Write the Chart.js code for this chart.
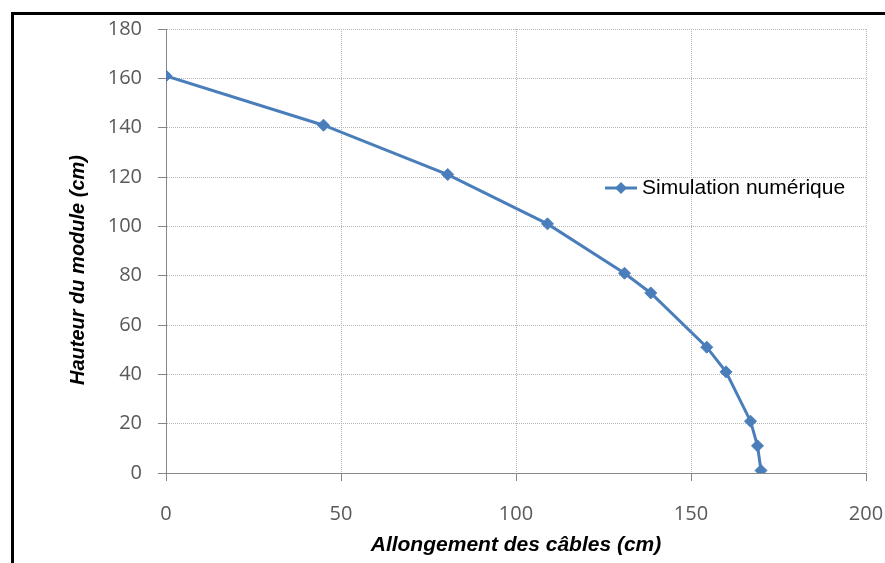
<!DOCTYPE html>
<html>
<head>
<meta charset="utf-8">
<title>Hauteur du module vs allongement des câbles</title>
<script src="https://cdn.jsdelivr.net/npm/chart.js@4/dist/chart.umd.min.js"></script>
<style>
  html, body { margin: 0; padding: 0; background: #fff; overflow: hidden; }
  #wrap { position: relative; width: 885px; height: 563px; }
  #frame {
    position: absolute; left: 11px; top: 12px; width: 1000px; height: 1000px;
    border-top: 3px solid #000; border-left: 3px solid #000; pointer-events: none;
  }
</style>
</head>
<body>
<div id="wrap">
  <canvas id="chart" width="885" height="563"></canvas>
  <div id="frame"></div>
</div>
<script>
  // Data
  const allongement = [0, 45, 80.5, 109, 131, 138.5, 154.5, 160, 167, 169, 170];
  const hauteur = [161, 141, 121, 101, 81, 73, 51, 41, 21, 11, 1];
  const seriesLabel = 'Simulation numérique';
  const xTitle = 'Allongement des câbles (cm)';
  const yTitle = 'Hauteur du module (cm)';
  const xTicks = [0, 50, 100, 150, 200];
  const yTicks = [0, 20, 40, 60, 80, 100, 120, 140, 160, 180];

  const lineColor = '#4a7ebb';
  const axisColor = '#868686';
  const gridColor = '#b8b8b8';
  const tickFont = { family: '"Open Sans", "DejaVu Sans", sans-serif', size: 20 };

  // Y axis title and the floating legend are drawn by hand
  const overlayPlugin = {
    id: 'overlay',
    afterDraw(chart) {
      const ctx = chart.ctx;
      const ds = chart.data.datasets[0];

      ctx.save();
      ctx.translate(78, 270);
      ctx.rotate(-Math.PI / 2);
      ctx.font = 'italic bold 20px "Liberation Sans", Arial, sans-serif';
      ctx.fillStyle = '#000';
      ctx.textAlign = 'center';
      ctx.textBaseline = 'middle';
      ctx.fillText(yTitle, 0, 0);
      ctx.restore();

      // legend: line sample + diamond + text
      const ly = 188;
      ctx.save();
      ctx.strokeStyle = ds.borderColor;
      ctx.lineWidth = ds.borderWidth;
      ctx.beginPath();
      ctx.moveTo(605, ly);
      ctx.lineTo(637, ly);
      ctx.stroke();
      const r = ds.pointRadius;
      ctx.fillStyle = ds.pointBackgroundColor;
      ctx.beginPath();
      ctx.moveTo(621, ly - r);
      ctx.lineTo(621 + r, ly);
      ctx.lineTo(621, ly + r);
      ctx.lineTo(621 - r, ly);
      ctx.closePath();
      ctx.fill();
      ctx.font = '21px "Liberation Sans", Arial, sans-serif';
      ctx.fillStyle = '#000';
      ctx.textAlign = 'left';
      ctx.textBaseline = 'middle';
      ctx.fillText(ds.label, 642, ly);
      ctx.restore();
    }
  };

  const ctx = document.getElementById('chart').getContext('2d');
  const chart = new Chart(ctx, {
    type: 'scatter',
    data: {
      datasets: [{
        label: seriesLabel,
        data: allongement.map((x, i) => ({ x, y: hauteur[i] })),
        showLine: true,
        borderColor: lineColor,
        borderWidth: 3,
        pointStyle: 'rectRot',
        pointRadius: 6,
        pointBackgroundColor: lineColor,
        pointBorderColor: lineColor,
        pointBorderWidth: 1,
        tension: 0
      }]
    },
    options: {
      responsive: false,
      animation: false,
      layout: { padding: { top: 29, right: 0, bottom: 0, left: 0 } },
      plugins: {
        legend: { display: false },
        tooltip: { enabled: false }
      },
      scales: {
        x: {
          type: 'linear',
          min: xTicks[0],
          max: xTicks[xTicks.length - 1],
          afterBuildTicks: (scale) => { scale.ticks = xTicks.map(v => ({ value: v })); },
          afterFit: (scale) => { scale.height = 90; scale.paddingRight = 19; },
          ticks: { font: tickFont, color: '#595959', padding: 21, maxRotation: 0 },
          grid: { color: gridColor, lineWidth: 1, tickLength: 8, tickColor: axisColor, tickBorderDash: [] },
          border: { color: axisColor, width: 1, dash: [1, 1] },
          title: {
            display: true,
            text: xTitle,
            color: '#000',
            font: { family: '"Liberation Sans", Arial, sans-serif', size: 21, style: 'italic', weight: 'bold' },
            padding: { top: 0, bottom: 5 }
          }
        },
        y: {
          type: 'linear',
          min: yTicks[0],
          max: yTicks[yTicks.length - 1],
          afterBuildTicks: (scale) => { scale.ticks = yTicks.map(v => ({ value: v })); },
          afterFit: (scale) => { scale.width = 166; },
          ticks: { font: tickFont, color: '#595959', padding: 16 },
          grid: { color: gridColor, lineWidth: 1, tickLength: 8, tickColor: axisColor, tickBorderDash: [] },
          border: { color: axisColor, width: 1, dash: [1, 1] }
        }
      }
    },
    plugins: [overlayPlugin]
  });
  console.log('chartArea', JSON.stringify(chart.chartArea));
</script>
</body>
</html>
